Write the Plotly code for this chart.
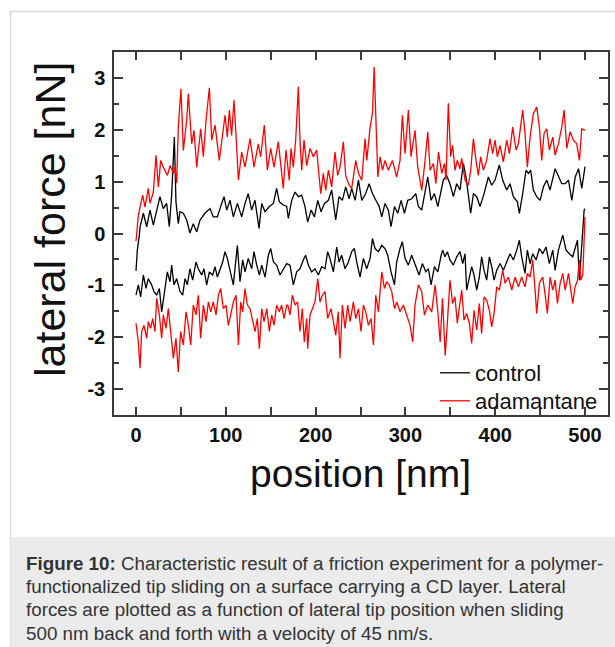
import plotly.graph_objects as go

# ---------------- data ----------------
ctrl_up_x = [0, 1.5, 3.7, 4.5, 8.2, 11.9, 15.6, 19.3, 22.3, 26.7, 30.4, 34.1, 37.1, 39.7, 42.7, 44.5, 47.1, 49, 52.7,
             56.4, 60.1, 63.8, 67.6, 71.3, 76.8, 82.4, 86.1, 90.6, 95.4, 98, 101, 104.7, 108.4, 112.9, 117.7, 121.4,
             125, 128.8, 132.5, 137, 140, 143.7, 148.5, 153, 156.6, 159.6, 164, 167.8, 169.6, 173.4, 177.1,
             180.8, 184.5, 188.2, 191.2, 195, 198.7, 202.4, 206.1, 209.8, 214.2, 217.9, 222.4, 226.1, 229.8, 233.5,
             237.3, 240.2, 244, 247.7, 251.4, 255.8, 259.6, 263.3, 267.1, 270.8, 273.7, 277.3, 281, 284, 287.8,
             291.5, 295.2, 298.9, 302.6, 307, 311.5, 314.5, 318.2, 321.2, 324.9, 328.6, 332.3, 336.1, 338.7,
             342.2, 345.9, 349.6, 353.4, 357.1, 360.8, 364.5, 367.5, 370.1, 372.7, 375.7, 379.4, 383.1, 387.6,
             392.4, 396.1, 399.8, 404.6, 408.3, 412.8, 416.5, 420.2, 424.7, 426.9, 430.6, 434.3, 436.9, 439.5,
             442.5, 446.2, 450, 453.7, 457.4, 461.1, 466.7, 470.4, 474.1, 477.9, 481.6, 485.3, 489.1, 492.8,
             496.4, 500]
ctrl_up_y = [-0.72, -0.32, -0.03, 0.13, 0.39, 0.13, 0.45, 0.16, 0.39, 0.71, 0.48, 0.58, 0.13, 0.74, 1.86, 0.61, 0.19,
             0.42, 0.39, 0.26, 0.01, 0.19, 0.03, 0.26, 0.39, 0.48, 0.32, 0.32, 0.58, 0.71, 0.45, 0.64, 0.32, 0.58,
             0.32, 0.58, 0.77, 0.45, 0.64, 0.10, 0.58, 0.42, 0.52, 0.58, 0.87, 0.61, 0.55, 0.52, 0.29, 0.64, 0.80,
             0.71, 0.74, 0.52, 0.22, 0.45, 0.32, 0.64, 0.42, 0.58, 0.64, 0.84, 0.26, 0.71, 0.64, 0.90,
             0.67, 0.87, 0.64, 1.03, 0.64, 0.77, 0.96, 0.77, 0.64, 0.52, 0.32, 0.58, 0.45, 0.13, 0.52,
             0.39, 0.64, 0.39, 0.64, 0.67, 0.77, 0.52, 0.45, 0.77, 1.09, 0.64, 0.77, 0.52, 0.77,
             1.03, 1.12, 0.96, 0.71, 0.96, 0.84, 1.35, 1.09, 0.77, 0.39, 0.77, 0.71, 0.52, 0.77,
             1.09, 0.93, 1.03, 1.32, 1.03, 0.84, 0.96, 0.71, 0.61, 0.39, 0.77, 1.22, 1.16, 1.22,
             0.84, 0.71, 0.64, 0.90, 1.03, 0.84, 1.25, 1.09, 0.96, 0.96, 1.03, 0.64, 1.09, 1.25,
             0.87, 1.29]

ctrl_dn_x = [0, 2.6, 5.2, 8.2, 11.1, 13.7, 17.4, 20, 23, 26, 28.6, 32.3, 34.9, 37.9, 39.7, 42.3, 45.3, 49, 52, 54.6,
             57.2, 60.1, 63.1, 66.8, 69.4, 73.1, 75.7, 78.7, 81.7, 85.4, 88, 90.6, 93.6, 96.5, 99.1, 101.7, 104.7,
             108.4, 111.4, 112.9, 115.8, 118.8, 121.4, 125, 128.8, 131.4, 134.4, 137.4, 140, 143.7, 147.4, 150,
             153, 156.6, 160.4, 164.1, 167.8, 171.5, 175.2, 178.9, 182.6, 186.3, 188.9, 191.9, 195.6, 199.3,
             203.1, 206.8, 210.5, 213.4, 216, 219.8, 223.5, 226.1, 229, 232.8, 236.5, 240.2, 243.2, 245.8, 249.5,
             253.2, 256.9, 260.7, 263.3, 266.2, 269.9, 273.7, 277.3, 280.3, 284, 287.8, 290.3, 294, 296.6, 299.6,
             303.3, 307, 311.5, 315.2, 318.9, 322.7, 325.6, 328.6, 332.3, 336.1, 339.8, 341.5, 344.1, 346.7,
             349.6, 353.4, 357.1, 360.8, 363.8, 366.4, 368.2, 371.2, 373.8, 376.4, 379.4, 382.3, 384.9, 387.6,
             390.5, 393.5, 396.1, 398.7, 401.7, 405.4, 409.1, 412.8, 416.5, 420.2, 424, 426.9, 429.5, 433.2,
             435.8, 438.8, 441.8, 445.5, 449.2, 452.9, 456.6, 460.3, 464.1, 466.7, 470.4, 475.2, 478.9, 482.6,
             486.3, 488.9, 491.6, 493.8, 496.4, 499, 500]
ctrl_dn_y = [-1.19, -0.99, -1.22, -0.80, -1.06, -0.87, -0.99, -1.12, -1.19, -1.06, -1.51, -1.06, -0.74, -0.93, -0.61,
             -0.99, -0.87, -1.12, -1.19, -0.87, -0.99, -0.68, -0.90, -0.55, -0.68, -0.80, -0.68, -0.99, -0.74,
             -0.80, -0.64, -0.84, -0.68, -0.55, -0.35, -0.48, -0.71, -0.99, -0.48, -0.23, -0.93, -0.51, -0.74,
             -0.48, -0.68, -0.35, -0.61, -0.80, -0.61, -0.84, -0.42, -0.29, -0.55, -0.61, -0.80, -0.68, -0.58,
             -0.61, -0.99, -0.74, -0.68, -0.51, -0.42, -0.61, -0.74, -0.68, -0.80, -0.64, -0.68, -0.35, -0.48,
             -0.74, -0.26, -0.55, -0.42, -0.68, -0.55, -0.35, -0.29, -0.55, -0.84, -0.48, -0.68, -0.48, -0.10,
             -0.29, -0.35, -0.23, -0.29, -0.42, -0.74, -0.99, -0.55, -0.29, -0.16, -0.48, -0.61, -0.42, -0.61,
             -0.80, -0.58, -0.74, -0.68, -0.99, -0.64, -0.74, -0.42, -0.32, -0.45, -0.35, -0.51, -0.61, -0.45,
             -0.35, -0.58, -0.39, -1.09, -0.84, -0.64, -0.80, -1.09, -0.84, -0.45, -0.71, -0.90, -0.45, -0.64,
             -0.90, -0.71, -0.58, -0.71, -0.55, -0.39, -0.51, -0.32, -0.13, -0.45, -0.77, -0.32, -0.58, -0.39,
             -0.51, -0.29, -0.39, -0.26, -0.58, -0.32, -0.71, -0.32, -0.03, -0.32, -0.39, -0.45, -0.29, -0.13,
             -0.90, -0.13, 0.45, 0.48]

adam_up_x = [0, 2.6, 7.4, 10, 13.7, 15.6, 19.3, 22.3, 24.9, 27.5, 30.4, 35, 37.9, 41.6, 43.4, 45.3, 47.1, 50.1, 52.7,
             56.4, 58.3, 62, 64.6, 67.6, 72, 75, 78, 81.7, 84.3, 88, 92.8, 99.1, 101.7, 104, 106.5, 109.1, 111.4, 114,
             117.7, 121.4, 127, 131.4, 136.2, 138.8, 142.9, 146.3, 150, 153.7, 158.5, 164, 167, 170.7, 172.6,
             175.2, 177.8, 180.8, 182.6, 184.5, 187.1, 190.1, 193.8, 197.5, 201.2, 203.1, 205.7, 208.6, 211.3,
             214.2, 217.9, 221.6, 224.6, 227.2, 230.9, 233.5, 237.3, 240.2, 244.7, 247.7, 251.4, 255.1, 257,
             260.7, 263.3, 265.2, 267.1, 269.3, 271.8, 274.5, 277.3, 281, 285.5, 290.3, 294, 296.6, 299.6, 303.3,
             306.3, 310.7, 313.7, 318.2, 321.9, 324.9, 327.5, 331.2, 333.9, 336.8, 340.5, 343.5, 345.2, 347.8,
             350.4, 352.6, 355.2, 357.8, 360.8, 362.7, 366.4, 370.1, 372.7, 375.7, 378.6, 381.2, 383.8, 386.8,
             390.5, 394.2, 397.2, 399.8, 402.4, 405.4, 409.1, 412.8, 415.8, 419.5, 423.2, 425.8, 430.6, 433.2,
             435.8, 438.8, 442.5, 446.2, 449.2, 451.8, 454.4, 457.4, 460.3, 464.1, 466.7, 470.4, 474.1, 476.7,
             479.7, 483.4, 487.1, 490.8, 493.8, 496.4, 500]
adam_up_y = [-0.15, 0.35, 0.74, 0.51, 0.87, 0.58, 0.80, 1.51, 0.90, 1.41, 1.28, 1.12, 1.31, 1.16, 1.28, 0.97, 2.05,
             2.79, 1.60, 2.18, 2.70, 1.73, 1.99, 1.28, 2.02, 1.48, 2.18, 2.81, 1.80, 2.09, 1.41, 2.28, 1.86, 2.38,
             1.89, 2.57, 1.89, 1.03, 1.57, 1.28, 1.83, 1.28, 1.73, 1.48, 2.09, 1.22, 1.64, 1.28, 1.77, 0.87, 1.61,
             1.03, 1.64, 1.28, 1.80, 2.83, 1.80, 1.22, 1.80, 1.31, 1.64, 1.48, 1.61, 1.22, 0.77, 1.16, 0.83,
             1.22, 0.90, 1.57, 1.12, 1.28, 1.77, 1.12, 0.93, 0.87, 1.41, 1.16, 1.03, 1.83, 1.41,
             2.05, 2.31, 3.21, 2.05, 1.09, 1.48, 1.22, 1.41, 1.22, 1.41, 1.09, 1.41, 2.28, 1.54, 2.38,
             1.48, 1.99, 1.28, 0.83, 1.41, 1.96, 1.22, 1.35, 0.96, 1.57, 1.16, 1.35, 1.03, 2.51,
             1.48, 1.70, 1.22, 1.41, 1.25, 1.45, 1.03, 0.93, 1.22, 1.83, 1.41, 1.12, 1.48, 1.22,
             1.41, 1.83, 1.54, 1.80, 1.48, 1.70, 1.38, 1.80, 1.54, 2.05, 1.61, 1.73, 2.38, 1.93,
             1.28, 1.86, 2.31, 2.44, 2.05, 1.41, 1.93, 2.02, 1.61, 1.86, 1.51, 1.73, 2.05, 2.38,
             1.64, 1.96, 1.80, 1.73, 1.41, 2.02, 1.99]

adam_dn_x = [0, 2.6, 4.5, 6.3, 8.9, 11.9, 13.7, 16.3, 18.6, 21.2, 23, 26, 28.6, 30.4, 33.4, 36, 38.6, 41.6, 44.5, 47.1,
             49.7, 52.7, 55.7, 58.3, 60.9, 63.8, 66.8, 69.4, 72, 75, 78, 80.6, 83.2, 86.1, 89.1, 91.7, 94.3, 97.3,
             100.2, 102.8, 105.4, 108.4, 111.4, 114, 116.6, 118.8, 121.4, 124, 127, 130, 132.5, 135.1, 137.4, 140,
             142.6, 145.6, 148.5, 151.1, 153.7, 156.6, 159.6, 162.2, 164.8, 167.8, 169, 171.5, 174.1, 177.1, 180,
             182.6, 185.2, 187.4, 190.1, 191.2, 193.8, 196.4, 199.3, 202.4, 204.9, 207.5, 210.5, 213.4, 217.1,
             219.8, 222.4, 225.3, 227.2, 229.8, 232.8, 235.8, 238.4, 242.1, 244.7, 247.7, 250.6, 253.2, 255.8,
             258.8, 261.8, 264.4, 267, 269.9, 273.7, 276.6, 279.2, 281.8, 284.8, 287.8, 290.3, 294, 297.7, 301.4,
             305.2, 308.1, 310.7, 314.5, 318.2, 321.2, 324.9, 329.3, 333.1, 336.1, 338.7, 341.3, 344.3, 346.7,
             349.6, 352.6, 355.2, 357.8, 360.8, 362.7, 365.3, 368.2, 371.2, 373.8, 376.4, 379.4, 382.3, 384.9,
             387.6, 390.5, 393.5, 396.1, 398.7, 401.7, 404.6, 408.3, 411, 414.7, 418.4, 422.1, 425.8, 429.5,
             433.2, 435.8, 438.8, 441.8, 444.4, 446.2, 449.2, 452.9, 455.5, 458.1, 461.1, 464.1, 466.7, 469.3,
             472.3, 475.2, 477.9, 481.6, 484.2, 486.3, 488.9, 491.6, 493.8, 495.3, 497.5, 499, 500]
adam_dn_y = [-1.73, -2.09, -2.60, -1.89, -1.77, -2.02, -1.70, -1.83, -1.64, -1.89, -1.25, -1.57, -2.02, -1.57, -1.83,
             -1.45, -1.89, -2.41, -2.02, -2.67, -1.89, -2.15, -1.51, -1.77, -2.15, -1.38, -1.57, -1.19, -2.02,
             -1.38, -1.70, -1.32, -1.51, -1.32, -1.57, -1.19, -1.06, -1.45, -1.38, -1.77, -1.57, -1.32, -1.19,
             -2.15, -1.32, -1.51, -1.06, -1.38, -1.45, -1.70, -1.89, -1.64, -2.22, -1.45, -1.70, -1.45, -1.89,
             -1.57, -1.77, -1.38, -1.51, -1.38, -1.64, -1.38, -1.38, -1.57, -1.19, -1.38, -1.32, -1.89, -1.45,
             -2.09, -1.64, -2.22, -1.57, -1.45, -1.32, -0.87, -1.32, -1.19, -1.12, -1.64, -1.45, -1.70, -1.96,
             -1.51, -2.41, -1.38, -1.83, -1.38, -1.70, -1.32, -1.64, -1.45, -1.89, -1.38, -1.51, -1.77, -1.64,
             -2.15, -1.19, -1.51, -0.74, -1.06, -0.93, -0.99, -1.12, -1.45, -1.32, -1.51, -1.38, -1.57, -1.77,
             -2.09, -1.38, -0.99, -1.12, -1.57, -1.38, -1.51, -0.99, -1.51, -2.09, -1.25, -2.35, -1.73, -0.90,
             -1.35, -1.22, -1.73, -1.29, -1.09, -1.67, -1.54, -1.73, -2.12, -1.48, -1.86, -1.35, -1.93, -1.22,
             -1.29, -1.48, -1.80, -1.54, -1.03, -1.09, -0.71, -0.96, -0.84, -1.09, -0.84, -1.03, -0.84, -1.03,
             -0.77, -0.84, -0.51, -1.09, -1.54, -0.96, -0.84, -1.16, -1.54, -0.84, -1.09, -0.90, -1.35, -0.96,
             -0.77, -1.09, -0.77, -1.09, -1.35, -1.03, -0.90, -0.51, -0.90, -0.80, -0.13, 0.32]

series_names = ["control", "adamantane"]
series_colors = ["#000000", "#ff0000"]

x_tick_vals = [0, 100, 200, 300, 400, 500]
x_tick_text = ["0", "100", "200", "300", "400", "500"]
y_tick_vals = [-3, -2, -1, 0, 1, 2, 3]
y_tick_text = ["-3", "-2", "-1", "0", "1", "2", "3"]

x_title = "position [nm]"
y_title = "lateral force [nN]"
caption_lines = [
    "<b>Figure 10:</b> Characteristic result of a friction experiment for a polymer-",
    "functionalized tip sliding on a surface carrying a CD layer. Lateral",
    "forces are plotted as a function of lateral tip position when sliding",
    "500 nm back and forth with a velocity of 45 nm/s.",
]

# ---------------- figure ----------------
W, H = 615, 647
L, R, T, B = 114, 608, 52, 415


def px(x):
    return (x - L) / (R - L)


def py(y):
    return (B - y) / (B - T)


fig = go.Figure()
branches = [
    (ctrl_up_x, ctrl_up_y, ctrl_dn_x, ctrl_dn_y),
    (adam_up_x, adam_up_y, adam_dn_x, adam_dn_y),
]
legend_ids = ["legend", "legend2"]
for name, color, lg, (ux, uy, dx, dy) in zip(series_names, series_colors, legend_ids, branches):
    fig.add_trace(go.Scatter(
        x=list(ux) + [None] + list(dx),
        y=list(uy) + [None] + list(dy),
        mode="lines", name=name, connectgaps=False, legend=lg,
        line=dict(color=color, width=1.3),
    ))

FONT = "Liberation Sans, Arial, sans-serif"
axis_common = dict(
    showline=True, linecolor="#3a3a3a", linewidth=1.5, mirror="ticks",
    ticks="inside", tickcolor="#3a3a3a", tickwidth=1.5,
    showgrid=False, zeroline=False,
    tickfont=dict(family=FONT, size=20, color="#111111", weight="bold"),
)
fig.update_xaxes(range=[-24.5, 525.6], tickmode="array", tickvals=x_tick_vals, ticktext=x_tick_text,
                 ticklen=8, ticklabelstandoff=1,
                 minor=dict(ticks="inside", dtick=50, tick0=0, ticklen=8, tickcolor="#3a3a3a", tickwidth=1.5),
                 **axis_common)
fig.update_yaxes(range=[-3.5, 3.5], tickmode="array", tickvals=y_tick_vals, ticktext=y_tick_text,
                 ticklen=9, ticklabelstandoff=3,
                 minor=dict(ticks="inside", dtick=0.5, tick0=0, ticklen=5, tickcolor="#3a3a3a", tickwidth=1.5),
                 **axis_common)

annotations = [
    dict(text=x_title, x=px(360), y=py(473), xref="paper", yref="paper", showarrow=False,
         xanchor="center", yanchor="middle", font=dict(family=FONT, size=39, color="#111111")),
    dict(text=y_title, x=px(50), y=py(220), xref="paper", yref="paper", showarrow=False, textangle=-90,
         xanchor="center", yanchor="middle", font=dict(family=FONT, size=43, color="#111111")),
]
for i, line in enumerate(caption_lines):
    annotations.append(dict(text=line, x=px(24), y=py(563 + i * 23.4), xref="paper", yref="paper",
                            showarrow=False, xanchor="left", yanchor="middle", align="left",
                            font=dict(family=FONT, size=18.8, color="#333333")))

shapes = [
    dict(type="rect", xref="paper", yref="paper", x0=px(10.5), x1=px(640), y0=py(700), y1=py(11.5),
         line=dict(color="#dadada", width=1.5), fillcolor="rgba(0,0,0,0)", layer="below"),
    dict(type="rect", xref="paper", yref="paper", x0=px(10.5), x1=px(640), y0=py(700), y1=py(537),
         line=dict(width=0), fillcolor="#ebebeb", layer="below"),
]

legend_common = dict(xanchor="left", yanchor="middle", bgcolor="rgba(0,0,0,0)", borderwidth=0,
                     font=dict(family=FONT, size=22, color="#111111"), itemwidth=30)

fig.update_layout(
    width=W, height=H,
    margin=dict(l=L, r=W - R, t=T, b=H - B, autoexpand=False),
    paper_bgcolor="white", plot_bgcolor="white",
    showlegend=True,
    legend=dict(x=px(435), y=py(373), **legend_common),
    legend2=dict(x=px(435), y=py(401), **legend_common),
    annotations=annotations, shapes=shapes,
)

fig.write_html("out.html", config={"displayModeBar": False},
               post_script="document.body.style.margin='0px';document.body.style.overflow='hidden';")
